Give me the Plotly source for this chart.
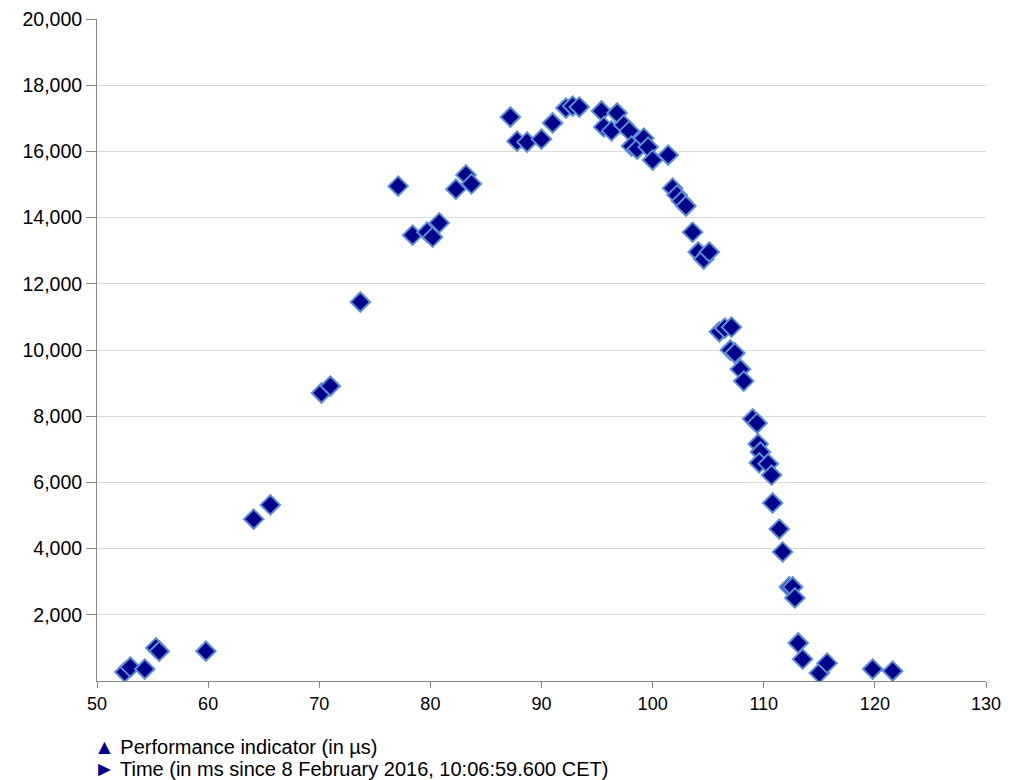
import plotly.graph_objects as go

time_ms = [52.5, 53.0, 54.3, 55.3, 55.6, 59.8, 64.1, 65.6, 70.2, 71.0, 73.7, 77.1,
           78.4, 79.7, 80.2, 80.8, 82.3, 83.2, 83.7, 87.2, 87.8, 88.7, 90.0, 91.0,
           92.2, 92.8, 93.4, 95.4, 95.6, 96.3, 96.8, 97.4, 97.9, 98.1, 98.6, 99.2,
           99.6, 100.0, 101.4, 101.8, 102.2, 102.6, 103.0, 103.6, 104.1, 104.6, 105.1,
           106.0, 106.5, 107.1, 107.0, 107.4, 107.9, 108.2, 109.0, 109.4, 109.5, 109.7,
           109.6, 110.4, 110.7, 110.8, 111.4, 111.7, 112.3, 112.6, 112.8, 113.1, 113.5,
           115.0, 115.7, 119.8, 121.6]
perf_us = [270, 420, 360, 1000, 900, 900, 4890, 5320, 8700, 8910, 11450, 14950,
           13470, 13560, 13410, 13840, 14860, 15290, 15020, 17040, 16310, 16280, 16370, 16860,
           17310, 17370, 17340, 17220, 16740, 16620, 17160, 16800, 16620, 16160, 16070, 16400,
           16130, 15740, 15890, 14890, 14680, 14500, 14350, 13560, 12960, 12750, 12960,
           10550, 10660, 10690, 10000, 9910, 9420, 9060, 7920, 7790, 7160, 6920,
           6590, 6560, 6220, 5380, 4590, 3900, 2840, 2840, 2510, 1150, 660,
           240, 540, 360, 300]

y_ticks = list(range(2000, 20001, 2000))
y_ticktext = [f"{v:,}" for v in y_ticks]
x_ticks = list(range(50, 131, 10))

legend_lines = [("▲", "Performance indicator (in µs)"),
                ("►", "Time (in ms since 8 February 2016, 10:06:59.600 CET)")]

FONT = "Liberation Sans, Arial"

fig = go.Figure()
fig.add_trace(go.Scatter(
    x=time_ms, y=perf_us, mode="markers",
    marker=dict(symbol="diamond", size=15, color="#00008B",
                line=dict(color="#5B8FD4", width=2)),
    showlegend=False,
))

for i, (sym, txt) in enumerate(legend_lines):
    fig.add_annotation(
        xref="paper", yref="paper", x=-0.006, y=-0.099 - i * 0.033,
        xanchor="left", yanchor="middle", showarrow=False,
        text=f"<span style='color:#00008B;font-size:21px'>{sym}</span> {txt}",
        font=dict(size=20, color="#000000", family=FONT),
    )

fig.update_layout(
    width=1005, height=772,
    margin=dict(l=89, r=27, t=11, b=99, autoexpand=False),
    paper_bgcolor="white", plot_bgcolor="white",
    font=dict(family=FONT, size=18, color="#000000"),
    xaxis=dict(range=[50, 130], tickvals=x_ticks, showgrid=False,
               showline=True, linecolor="#868686", linewidth=1,
               ticks="outside", ticklen=6, tickcolor="#868686",
               zeroline=False, tickfont=dict(size=18),
               ticklabeloverflow="allow", automargin=False),
    yaxis=dict(range=[0, 20000], tickvals=y_ticks, ticktext=y_ticktext,
               showgrid=True, gridcolor="#D9D9D9", gridwidth=1,
               showline=True, linecolor="#868686", linewidth=1,
               ticks="outside", ticklen=10, tickcolor="#868686",
               zeroline=False, tickfont=dict(size=19.5),
               ticklabeloverflow="allow", automargin=False),
)

fig.write_html("out.html")
